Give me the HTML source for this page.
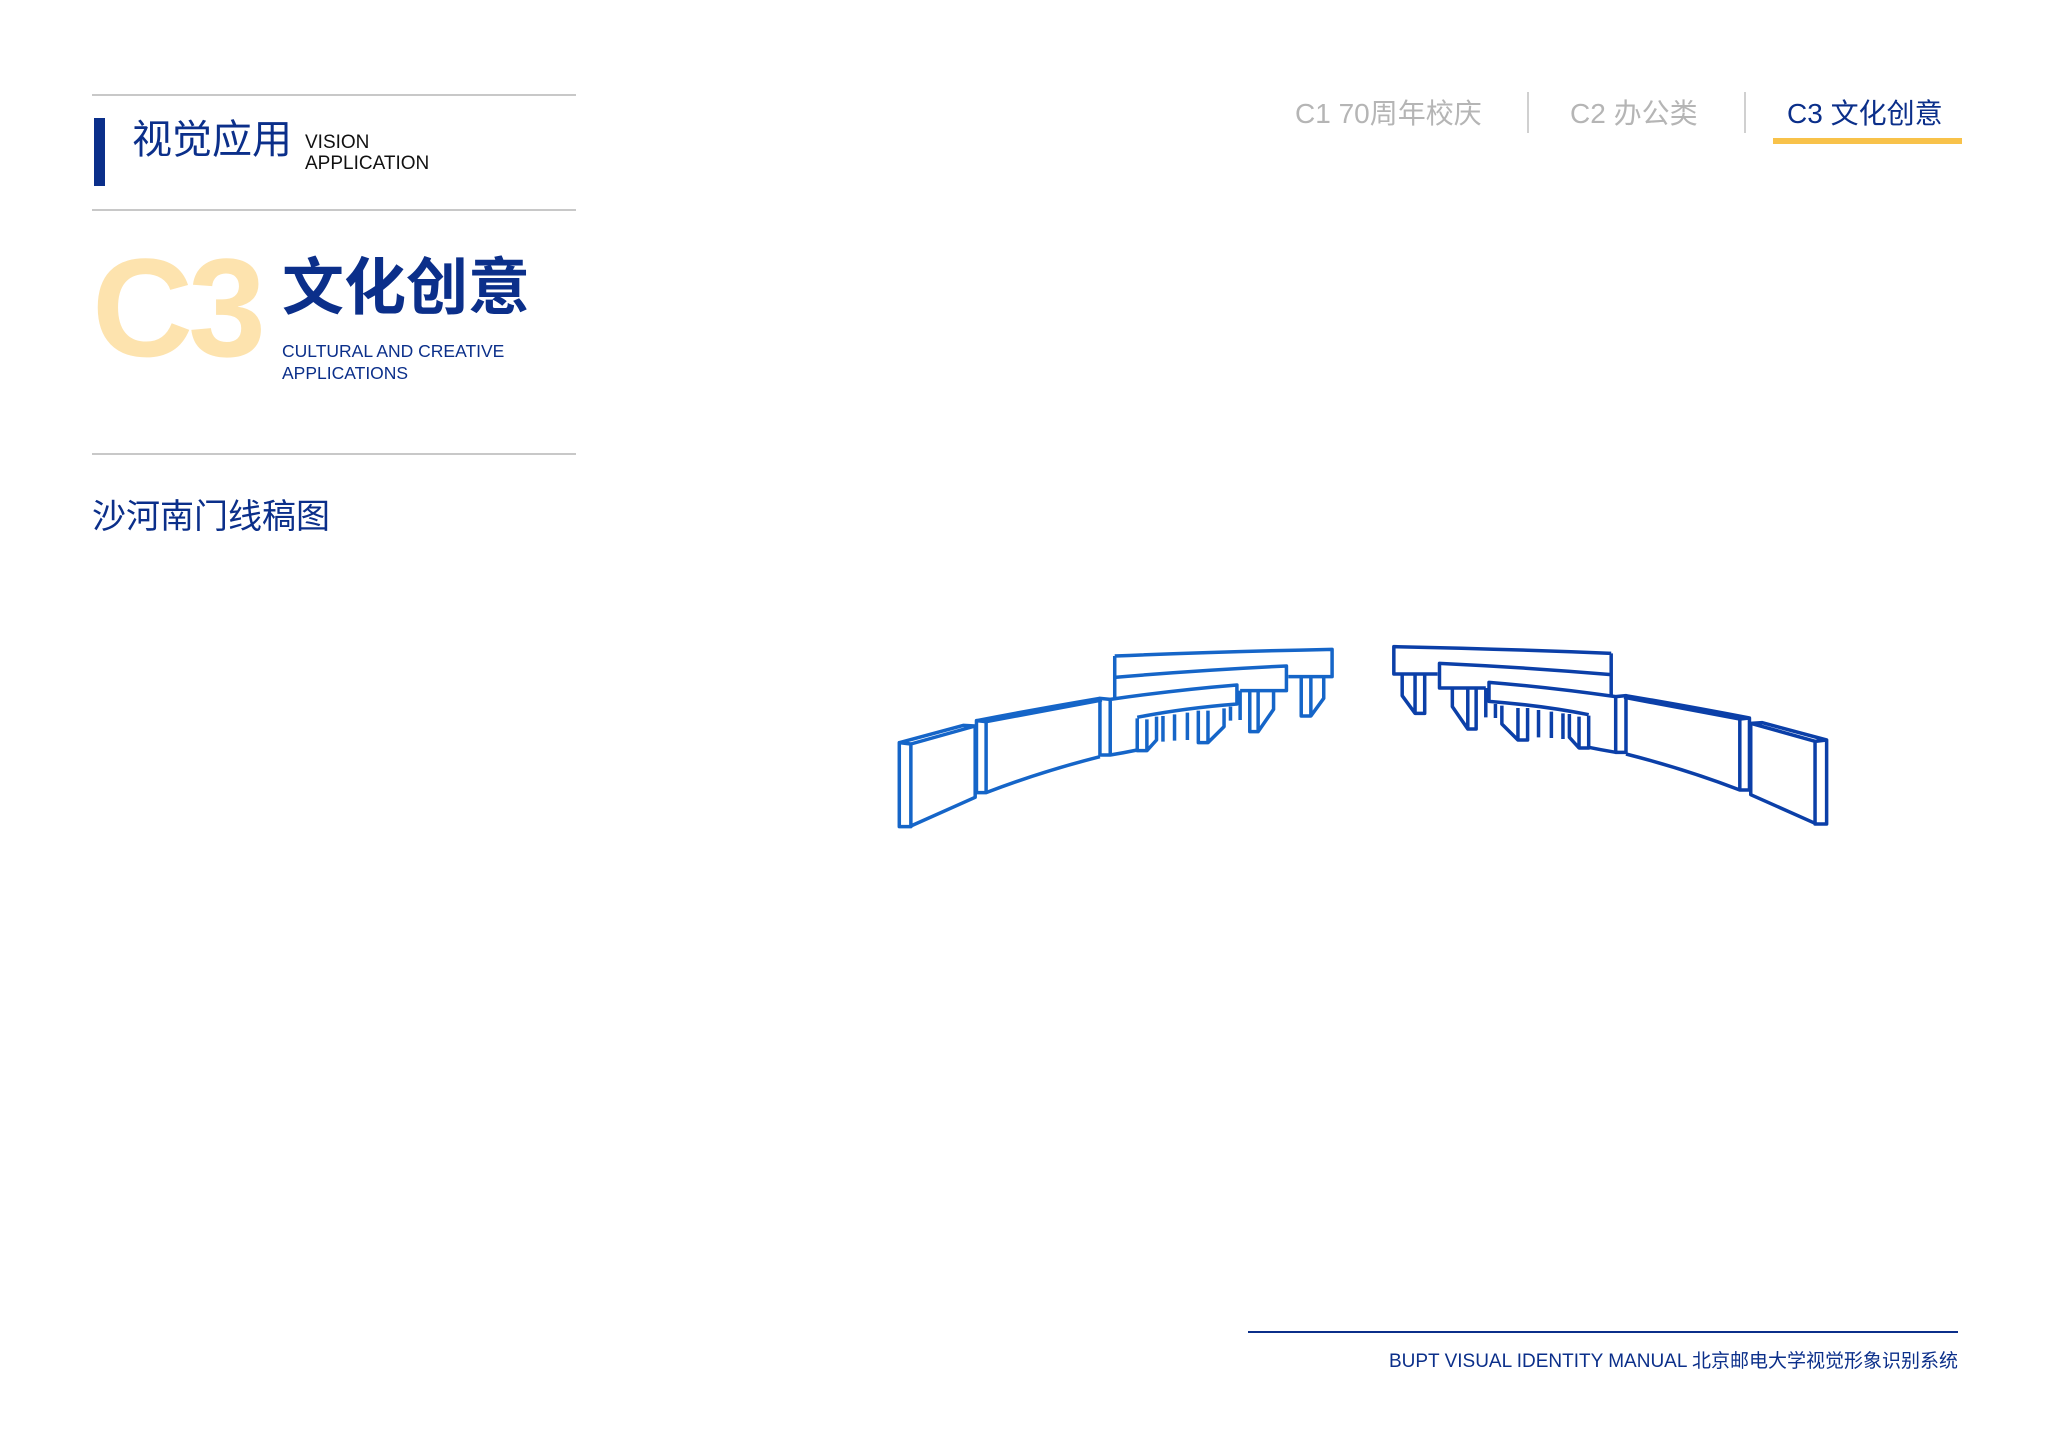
<!DOCTYPE html>
<html><head><meta charset="utf-8"><style>
body{margin:0;width:2048px;height:1456px;background:#fff;position:relative;overflow:hidden;font-family:"Liberation Sans","Noto Sans CJK SC",sans-serif}
.a{position:absolute;white-space:nowrap}
.hl{position:absolute;left:92px;width:484px;height:2px;background:#c8c8c8}
</style></head><body>
<div class="hl" style="top:94px"></div>
<div class="hl" style="top:209px"></div>
<div class="hl" style="top:453px"></div>
<div class="a" style="left:94px;top:118px;width:11px;height:68px;background:#0b2f8a"></div>
<div class="a" style="left:132px;top:120px;font-size:40px;color:#0b2f8a;line-height:1">视觉应用</div>
<div class="a" style="left:305px;top:132px;font-size:19px;color:#111;line-height:21px">VISION<br>APPLICATION</div>
<div class="a" style="left:92px;top:238px;font-size:140px;font-weight:bold;color:#fde3ae;line-height:1;letter-spacing:-5px">C3</div>
<div class="a" style="left:282px;top:258px;font-size:62px;font-weight:bold;color:#0b2f8a;line-height:1">文化创意</div>
<div class="a" style="left:282px;top:340px;font-size:17.5px;color:#0b2f8a;line-height:22px">CULTURAL AND CREATIVE<br>APPLICATIONS</div>
<div class="a" style="left:92px;top:500px;font-size:34px;color:#0b2f8a;line-height:1">沙河南门线稿图</div>
<div class="a" style="left:1295px;top:98px;font-size:28px;color:#b5b5b5;line-height:32px">C1 70周年校庆</div>
<div class="a" style="left:1527px;top:92px;width:2px;height:41px;background:#d0d0d0"></div>
<div class="a" style="left:1570px;top:98px;font-size:28px;color:#b5b5b5;line-height:32px">C2 办公类</div>
<div class="a" style="left:1744px;top:92px;width:2px;height:41px;background:#d0d0d0"></div>
<div class="a" style="left:1787px;top:98px;font-size:28px;color:#0b2f8a;line-height:32px">C3 文化创意</div>
<div class="a" style="left:1773px;top:138px;width:189px;height:6px;background:#f8c24a"></div>
<div class="a" style="left:1248px;top:1331px;width:710px;height:2px;background:#0b2f8a"></div>
<div class="a" style="right:90px;top:1350px;font-size:19px;color:#0b2f8a;line-height:24px">BUPT VISUAL IDENTITY MANUAL 北京邮电大学视觉形象识别系统</div>
<svg class="a" style="left:880px;top:620px" width="1000" height="230" viewBox="0 0 1555 690" preserveAspectRatio="none">
<defs><g id="w" fill="none" stroke-width="3.5" stroke-linejoin="round">
<path vector-effect="non-scaling-stroke" d="M30,368 L30,620 L48,620 L48,372 Z M30,368 L130,316 L148,318 M48,372 L148,318 L148,532 L48,618"/>
<path vector-effect="non-scaling-stroke" d="M150,302 L150,518 L165,518 L165,305 Z M150,302 Q250,265 342,235 M165,305 Q260,270 345,240 M165,518 Q250,455 342,410"/>
<path vector-effect="non-scaling-stroke" d="M342,235 L342,405 L358,405 L358,238 Z M358,238 Q460,210 555,195 L555,252 Q470,265 400,292 M358,405 Q380,398 400,390"/>
<path vector-effect="non-scaling-stroke" d="M365,108 Q530,95 703,88 L703,170 L635,170 M365,108 L365,235 M365,172 Q500,150 632,138 L632,212 L560,212"/>
<path vector-effect="non-scaling-stroke" d="M655,170 L655,288 L670,288 L690,235 L690,170 M670,170 L670,288"/>
<path vector-effect="non-scaling-stroke" d="M575,212 L575,335 L588,335 L612,268 L612,212 M588,212 L588,335 M560,212 L560,300"/>
<path vector-effect="non-scaling-stroke" d="M400,295 L400,392 L415,392 L430,360 L430,290 M415,298 L415,392 M440,288 L440,365 M458,283 L458,362 M478,278 L478,360 M495,272 L495,368 L510,368 L535,320 L535,265 M510,272 L510,368 M545,260 L545,302"/>
</g></defs>
<use href="#w" stroke="#1565c8"/>
<g transform="translate(1502,-8) scale(-1,1)"><use href="#w" stroke="#0b3fa8"/></g>
</svg>
</body></html>
